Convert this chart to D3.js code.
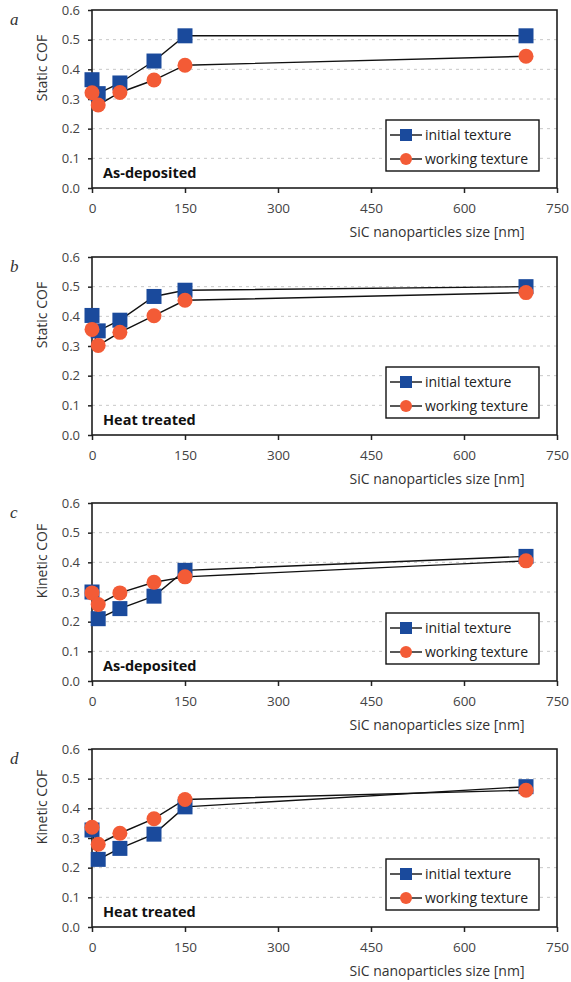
<!DOCTYPE html>
<meta charset="utf-8">
<script src="https://d3js.org/d3.v7.min.js"></script>
<style>
  body { margin: 0; background: #fff; }
  text { font-family: "Open Sans", "DejaVu Sans", sans-serif; }
</style>
<body>
</body>
<script>
  // SiC nanoparticle sizes [nm]
  var sizes = [0, 10, 45, 100, 150, 700];

  var panelLetters = ["a", "b", "c", "d"];
  var yTitles = ["Static COF", "Static COF", "Kinetic COF", "Kinetic COF"];
  var treatments = ["As-deposited", "Heat treated", "As-deposited", "Heat treated"];
  var seriesNames = ["initial texture", "working texture"];

  var initialTexture = [
    [0.365, 0.318, 0.354, 0.428, 0.513, 0.513],
    [0.403, 0.351, 0.387, 0.467, 0.488, 0.500],
    [0.300, 0.210, 0.244, 0.286, 0.373, 0.420],
    [0.327, 0.228, 0.265, 0.313, 0.405, 0.473]
  ];
  var workingTexture = [
    [0.321, 0.280, 0.322, 0.364, 0.414, 0.444],
    [0.356, 0.302, 0.346, 0.402, 0.454, 0.480],
    [0.297, 0.258, 0.297, 0.333, 0.351, 0.405],
    [0.336, 0.279, 0.316, 0.365, 0.430, 0.461]
  ];

  var xTicks = [0, 150, 300, 450, 600, 750];
  var yTicks = [0, 0.1, 0.2, 0.3, 0.4, 0.5, 0.6];

  var W = 571, H = 982;
  var panelTops = [10, 257, 503, 749];
  var plotH = 178;
  var left = 92, right = 557;

  var blue = "#1a4a9c", orange = "#f35b36";

  var svg = d3.select("body").append("svg")
      .attr("width", W)
      .attr("height", H);

  var x = d3.scaleLinear().domain([0, 750]).range([left, right]);

  panelLetters.forEach(function(letter, i) {
    var g = svg.append("g")
        .attr("transform", "translate(0," + panelTops[i] + ")");

    var y = d3.scaleLinear().domain([0, 0.6]).range([plotH, 0]);

    // dashed gridlines
    g.selectAll(".grid")
      .data(yTicks.slice(1, 6))
      .enter().append("line")
      .attr("x1", left).attr("x2", right)
      .attr("y1", function(d) { return y(d); })
      .attr("y2", function(d) { return y(d); })
      .attr("stroke", "#c8c8c8")
      .attr("stroke-width", 1)
      .attr("stroke-dasharray", "3,4");

    // axes
    var xAxis = d3.axisBottom(x).tickValues(xTicks).tickSize(5).tickPadding(10);
    var yAxis = d3.axisLeft(y).tickValues(yTicks).tickSize(4).tickPadding(8)
      .tickFormat(d3.format(".1f"));

    var gx = g.append("g")
      .attr("transform", "translate(0," + plotH + ")")
      .call(xAxis);
    var gy = g.append("g")
      .attr("transform", "translate(" + left + ",0)")
      .call(yAxis);

    [gx, gy].forEach(function(a) {
      a.select(".domain").remove();
      a.selectAll(".tick line").attr("stroke", "#222").attr("stroke-width", 1.5);
      a.selectAll(".tick text")
        .attr("fill", "#444")
        .style("font-family", "'Open Sans', sans-serif");
    });
    gx.selectAll(".tick text").style("font-size", "13.5px");
    gy.selectAll(".tick text").style("font-size", "13px");

    // plot frame
    g.append("rect")
      .attr("x", left).attr("y", 0)
      .attr("width", right - left).attr("height", plotH)
      .attr("fill", "none")
      .attr("stroke", "#1e1e1e")
      .attr("stroke-width", 1.6);

    var line = d3.line()
      .x(function(d) { return x(d[0]); })
      .y(function(d) { return y(d[1]); });

    var ini = sizes.map(function(s, j) { return [s, initialTexture[i][j]]; });
    var wrk = sizes.map(function(s, j) { return [s, workingTexture[i][j]]; });

    [ini, wrk].forEach(function(pts) {
      g.append("path")
        .datum(pts)
        .attr("d", line)
        .attr("fill", "none")
        .attr("stroke", "#111")
        .attr("stroke-width", 1.4);
    });

    g.selectAll(".sq")
      .data(ini)
      .enter().append("rect")
      .attr("x", function(d) { return x(d[0]) - 7.5; })
      .attr("y", function(d) { return y(d[1]) - 7.5; })
      .attr("width", 15).attr("height", 15)
      .attr("fill", blue);

    g.selectAll(".ci")
      .data(wrk)
      .enter().append("circle")
      .attr("cx", function(d) { return x(d[0]); })
      .attr("cy", function(d) { return y(d[1]); })
      .attr("r", 7.5)
      .attr("fill", orange);

    // treatment label
    g.append("text")
      .attr("x", left + 11)
      .attr("y", plotH - 10)
      .attr("fill", "#111")
      .style("font-size", "14.5px")
      .style("font-weight", "bold")
      .text(treatments[i]);

    // legend
    var lg = g.append("g").attr("transform", "translate(386," + (plotH - 68) + ")");
    lg.append("rect")
      .attr("width", 153).attr("height", 51)
      .attr("fill", "#fff")
      .attr("stroke", "#111")
      .attr("stroke-width", 1.4);
    seriesNames.forEach(function(name, k) {
      var yy = 15 + k * 24;
      lg.append("line")
        .attr("x1", 4).attr("x2", 36)
        .attr("y1", yy).attr("y2", yy)
        .attr("stroke", "#111").attr("stroke-width", 1.4);
      if (k === 0) {
        lg.append("rect")
          .attr("x", 14).attr("y", yy - 6)
          .attr("width", 12).attr("height", 12)
          .attr("fill", blue);
      } else {
        lg.append("circle")
          .attr("cx", 20).attr("cy", yy).attr("r", 6)
          .attr("fill", orange);
      }
      lg.append("text")
        .attr("x", 39).attr("y", yy + 5)
        .attr("fill", "#222")
        .style("font-size", "14px")
        .text(name);
    });

    // y title
    g.append("text")
      .attr("transform", "translate(47," + 58 + ") rotate(-90)")
      .attr("text-anchor", "middle")
      .attr("fill", "#333")
      .style("font-size", "14px")
      .text(yTitles[i]);

    // x title
    g.append("text")
      .attr("x", 437)
      .attr("y", plotH + 49)
      .attr("text-anchor", "middle")
      .attr("fill", "#333")
      .style("font-size", "14px")
      .text("SiC nanoparticles size [nm]");

    // panel letter
    g.append("text")
      .attr("x", 10)
      .attr("y", 15)
      .attr("fill", "#333")
      .style("font-family", "'Liberation Serif', 'DejaVu Serif', serif")
      .style("font-style", "italic")
      .style("font-size", "17px")
      .text(letter);
  });
</script>
